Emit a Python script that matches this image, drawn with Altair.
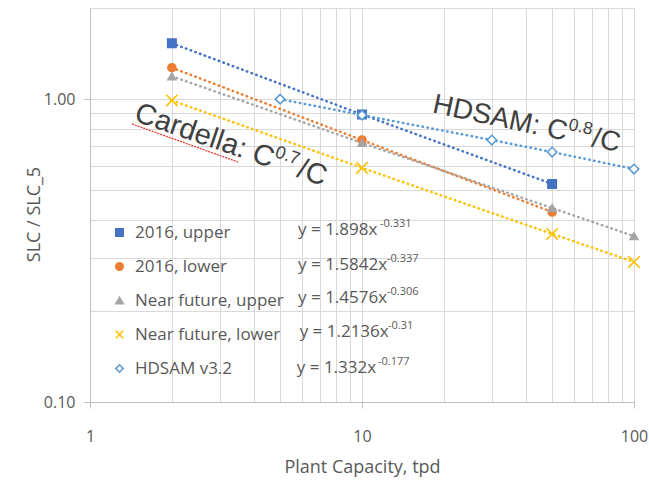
import altair as alt
import pandas as pd

# ---------------- data ----------------
series_names = ["2016, upper", "2016, lower", "Near future, upper",
                "Near future, lower", "HDSAM v3.2"]
cap_2016 = [2, 10, 50]
cap_nf = [2, 10, 50, 100]
cap_hdsam = [5, 10, 30, 50, 100]
slc_2016_upper = [1.53, 0.89, 0.525]
slc_2016_lower = [1.27, 0.733, 0.424]
slc_nf_upper = [1.19, 0.717, 0.437, 0.353]
slc_nf_lower = [0.99, 0.593, 0.359, 0.29]
slc_hdsam = [1.0, 0.886, 0.733, 0.669, 0.588]

eq_main = ["y = 1.898x", "y = 1.5842x", "y = 1.4576x", "y = 1.2136x", "y = 1.332x"]
eq_exp = ["-0.331", "-0.337", "-0.306", "-0.31", "-0.177"]
eq_y = [0.370, 0.2835, 0.2206, 0.1703, 0.1295]
eq_x = [5.82, 5.82, 5.82, 5.9, 5.76]
eq_exp_x = [11.65, 12.36, 12.36, 12.47, 11.45]

x_ticks = [1, 2, 3, 4, 5, 6, 7, 8, 9, 10, 20, 30, 40, 50, 60, 70, 80, 90, 100]
y_ticks = [0.1, 0.2, 0.3, 0.4, 0.5, 0.6, 0.7, 0.8, 0.9, 1, 2]

# ---------------- styles ----------------
colors = ["#4472C4", "#ED7D31", "#A5A5A5", "#FFC000", "#5B9BD5"]
fills = ["#4472C4", "#ED7D31", "#A5A5A5", "transparent", "white"]
shapes = ["square", "circle", "triangle-up", "M-1,-1L1,1M-1,1L1,-1", "diamond"]
sizes = [70, 64, 60, 130, 90]

rows = []
for i, (name, caps, vals) in enumerate(zip(series_names,
                            [cap_2016, cap_2016, cap_nf, cap_nf, cap_hdsam],
                            [slc_2016_upper, slc_2016_lower, slc_nf_upper, slc_nf_lower, slc_hdsam])):
    for c, v in zip(caps, vals):
        rows.append({"series": name, "cap": c, "slc": v, "sz": sizes[i], "col": colors[i]})
df = pd.DataFrame(rows)

df_eq = pd.DataFrame({"cap": eq_x, "slc": eq_y, "txt": eq_main})
df_exp = pd.DataFrame({"cap": eq_exp_x, "slc": eq_y, "txt": eq_exp})

grey = "#595959"
xscale = alt.Scale(type="log", domain=[1, 100], nice=False)
yscale = alt.Scale(type="log", domain=[0.1, 2], nice=False)

xaxis = alt.Axis(
    values=x_ticks, title="Plant Capacity, tpd",
    labelExpr="datum.value == 1 || datum.value == 10 || datum.value == 100 ? format(datum.value, 'd') : ''",
    grid=True, gridColor="#D9D9D9", domainColor="#BFBFBF", tickColor="#BFBFBF",
    tickOpacity={"condition": {"test": "datum.value == 1 || datum.value == 10 || datum.value == 100", "value": 1}, "value": 0},
    tickSize=6, labelPadding=20, labelFontSize=16, labelColor=grey, labelFont="Open Sans",
    titleFontSize=18, titleFont="Open Sans", titleFontWeight="normal", titleColor=grey,
    titlePadding=14, labelOverlap=False, labelFlush=False)
yaxis = alt.Axis(
    values=y_ticks, title="SLC / SLC_5",
    labelExpr="datum.value == 1 || datum.value == 0.1 ? format(datum.value, '.2f') : ''",
    grid=True, gridColor="#D9D9D9", domainColor="#BFBFBF", tickColor="#BFBFBF",
    tickOpacity={"condition": {"test": "datum.value == 1 || datum.value == 0.1", "value": 1}, "value": 0},
    tickSize=6, labelPadding=9, labelFontSize=16, labelColor=grey, labelFont="Open Sans",
    titleFontSize=18, titleFont="Open Sans", titleFontWeight="normal", titleColor=grey,
    titleX=-47, titleY=206, labelOverlap=False, labelFlush=False)

lines = alt.Chart(df).mark_line(
    strokeWidth=2.5, strokeDash=[0.5, 4.5], strokeCap="round"
).encode(
    x=alt.X("cap:Q", scale=xscale, axis=xaxis),
    y=alt.Y("slc:Q", scale=yscale, axis=yaxis),
    color=alt.Color("col:N", scale=None),
    detail="series:N",
)

leg = alt.Legend(title=None, orient="none", legendX=21, legendY=216)
points = alt.Chart(df).mark_point(opacity=1, strokeWidth=1.6).encode(
    x=alt.X("cap:Q", scale=xscale),
    y=alt.Y("slc:Q", scale=yscale),
    fill=alt.Fill("series:N", scale=alt.Scale(domain=series_names, range=fills), legend=leg),
    stroke=alt.Stroke("series:N", scale=alt.Scale(domain=series_names, range=colors), legend=leg),
    shape=alt.Shape("series:N", scale=alt.Scale(domain=series_names, range=shapes), legend=leg),
    size=alt.Size("sz:Q", scale=None),
)

eq_text = alt.Chart(df_eq).mark_text(
    align="left", baseline="middle", font="Open Sans", fontSize=17, color=grey
).encode(x="cap:Q", y="slc:Q", text="txt:N")

exp_text = alt.Chart(df_exp).mark_text(
    align="left", baseline="middle", font="Open Sans", fontSize=11, color=grey, dy=-6
).encode(x="cap:Q", y="slc:Q", text="txt:N")

# rotated annotations
ann_font = "Liberation Sans"
ann_col = "#404040"
card = pd.DataFrame({"cap": [1.44], "slc": [0.85]})
hds = pd.DataFrame({"cap": [18.0], "slc": [0.905]})

def rotated(df_a, angle, main, sup, tail, fs, w_main, w_sup):
    base = alt.Chart(df_a).encode(x="cap:Q", y="slc:Q")
    a = base.mark_text(align="left", baseline="alphabetic", angle=angle, font=ann_font,
                       fontSize=fs, color=ann_col, text=main)
    b = base.mark_text(align="left", baseline="alphabetic", angle=angle, font=ann_font,
                       fontSize=fs * 0.62, color=ann_col, text=sup, dx=w_main, dy=-fs * 0.4)
    c = base.mark_text(align="left", baseline="alphabetic", angle=angle, font=ann_font,
                       fontSize=fs, color=ann_col, text=tail, dx=w_main + w_sup)
    return a + b + c

card_txt = rotated(card, 19, "Cardella: C", "0.7", "/C", 29, 145, 27)
hds_txt = rotated(hds, 12, "HDSAM: C", "0.8", "/C", 28, 137, 26)

squig = pd.DataFrame({"cap": [1.427], "slc": [0.828], "cap2": [3.50], "slc2": [0.620]})
squiggle = alt.Chart(squig).mark_rule(color="#E53935", strokeWidth=1.3, strokeDash=[2, 1]).encode(
    x="cap:Q", y="slc:Q", x2="cap2:Q", y2="slc2:Q")

chart = alt.layer(lines, points, eq_text, exp_text, card_txt, hds_txt, squiggle).properties(
    width=544, height=394,
    autosize=alt.AutoSizeParams(type="none"),
    padding={"left": 90, "top": 8, "right": 15, "bottom": 80},
    background="white",
).configure_view(stroke=None).configure_legend(
    padding=0,
    labelFont="Open Sans", labelFontSize=17, labelColor=grey,
    symbolSize=55, symbolStrokeWidth=1.6, rowPadding=16, labelOffset=7,
)

chart.save("out.html", embed_options={"renderer": "svg", "actions": False})
